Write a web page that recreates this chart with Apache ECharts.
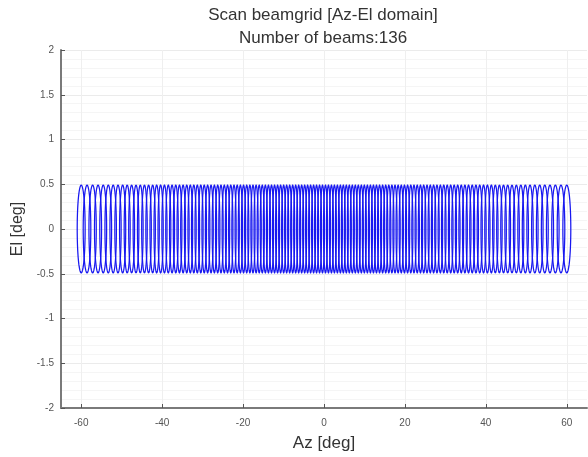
<!DOCTYPE html>
<html>
<head>
<meta charset="utf-8">
<script src="https://cdn.jsdelivr.net/npm/echarts@6/dist/echarts.min.js"></script>
<style>
  html, body { margin: 0; padding: 0; background: #fff; }
  #main { width: 588px; height: 457px; }
</style>
</head>
<body>
<div id="main"></div>
<script>
// beam centres in azimuth (deg), all on one elevation row
var beamAz = [
  -60.00, -58.56, -57.18, -55.84, -54.56, -53.31, -52.10, -50.91, -49.76, -48.64,
  -47.54, -46.46, -45.40, -44.37, -43.35, -42.34, -41.36, -40.38, -39.43, -38.48,
  -37.55, -36.63, -35.72, -34.82, -33.92, -33.04, -32.17, -31.31, -30.45, -29.60,
  -28.76, -27.92, -27.09, -26.27, -25.46, -24.64, -23.84, -23.04, -22.24, -21.45,
  -20.66, -19.88, -19.10, -18.32, -17.55, -16.78, -16.01, -15.25, -14.49, -13.73,
  -12.97, -12.22, -11.47, -10.72, -9.97, -9.23, -8.48, -7.74, -7.00, -6.26,
  -5.52, -4.78, -4.05, -3.31, -2.57, -1.84, -1.10, -0.37,
  0.37, 1.10, 1.84, 2.57, 3.31, 4.05, 4.78, 5.52, 6.26, 7.00,
  7.74, 8.48, 9.23, 9.97, 10.72, 11.47, 12.22, 12.97, 13.73, 14.49,
  15.25, 16.01, 16.78, 17.55, 18.32, 19.10, 19.88, 20.66, 21.45, 22.24,
  23.04, 23.84, 24.64, 25.46, 26.27, 27.09, 27.92, 28.76, 29.60, 30.45,
  31.31, 32.17, 33.04, 33.92, 34.82, 35.72, 36.63, 37.55, 38.48, 39.43,
  40.38, 41.36, 42.34, 43.35, 44.37, 45.40, 46.46, 47.54, 48.64, 49.76,
  50.91, 52.10, 53.31, 54.56, 55.84, 57.18, 58.56, 60.00
];
var beamEl = 0;
var beamRadius = 0.49; // deg, half width of a beam
var xLabelTicks = [-60, -40, -20, 0, 20, 40, 60];

var chartDom = document.getElementById("main");
var myChart = echarts.init(chartDom);
var option;

var d2r = Math.PI / 180;

function renderBeam(params, api) {
  var az0 = api.value(0) * d2r;
  var el0 = api.value(1) * d2r;
  var u0 = Math.sin(az0) * Math.cos(el0);
  var v0 = Math.sin(el0);
  var R = Math.sin(beamRadius * d2r);
  var pts = [];
  for (var i = 0; i <= 72; i++) {
    var t = (i / 72) * 2 * Math.PI;
    var u = u0 + R * Math.cos(t);
    var v = v0 + R * Math.sin(t);
    var el = Math.asin(v);
    var az = Math.asin(u / Math.cos(el));
    pts.push(api.coord([az / d2r, el / d2r]));
  }
  return {
    type: "polyline",
    shape: { points: pts },
    style: { fill: null, stroke: "#1818f0", lineWidth: 1.25 }
  };
}

var axisGray = "#7a7a7a";
var textFont = "Liberation Sans";

option = {
  backgroundColor: "#fff",
  animation: false,
  title: {
    text: "Scan beamgrid [Az-El domain]\nNumber of beams:136",
    left: 318,
    textAlign: "center",
    top: -1,
    textStyle: {
      fontFamily: textFont,
      fontSize: 17,
      fontWeight: "normal",
      color: "#333",
      lineHeight: 23
    }
  },
  grid: { left: 61, right: 1, top: 50, bottom: 47 },
  xAxis: {
    type: "value",
    min: -65,
    max: 65,
    interval: 5,
    name: "Az [deg]",
    nameLocation: "middle",
    nameGap: 27,
    nameTextStyle: { fontFamily: textFont, fontSize: 17, color: "#333" },
    axisLine: { onZero: false, lineStyle: { color: axisGray, width: 2 } },
    axisTick: {
      inside: true,
      length: 4,
      lineStyle: { color: "#555" },
      customValues: xLabelTicks
    },
    axisLabel: {
      fontFamily: textFont,
      fontSize: 10,
      color: "#555",
      margin: 10,
      customValues: xLabelTicks
    },
    splitLine: { show: true, lineStyle: { color: "#efefef", width: 1 } }
  },
  yAxis: {
    type: "value",
    min: -2,
    max: 2,
    interval: 0.5,
    name: "El [deg]",
    nameLocation: "middle",
    nameGap: 30,
    nameTextStyle: { fontFamily: textFont, fontSize: 16, color: "#333" },
    axisLine: { show: true, onZero: false, lineStyle: { color: axisGray, width: 2 } },
    axisTick: { show: true, inside: true, length: 4, lineStyle: { color: "#555" } },
    axisLabel: { fontFamily: textFont, fontSize: 10, color: "#555", margin: 7 },
    splitLine: { show: true, lineStyle: { color: "#ebebeb", width: 1 } },
    minorTick: { show: false, splitNumber: 5 },
    minorSplitLine: { show: true, lineStyle: { color: "#f5f5f5", width: 1 } }
  },
  series: [
    {
      type: "custom",
      renderItem: renderBeam,
      clip: true,
      data: beamAz.map(function (az) {
        return [az, beamEl];
      })
    }
  ]
};

option && myChart.setOption(option);
</script>
</body>
</html>
